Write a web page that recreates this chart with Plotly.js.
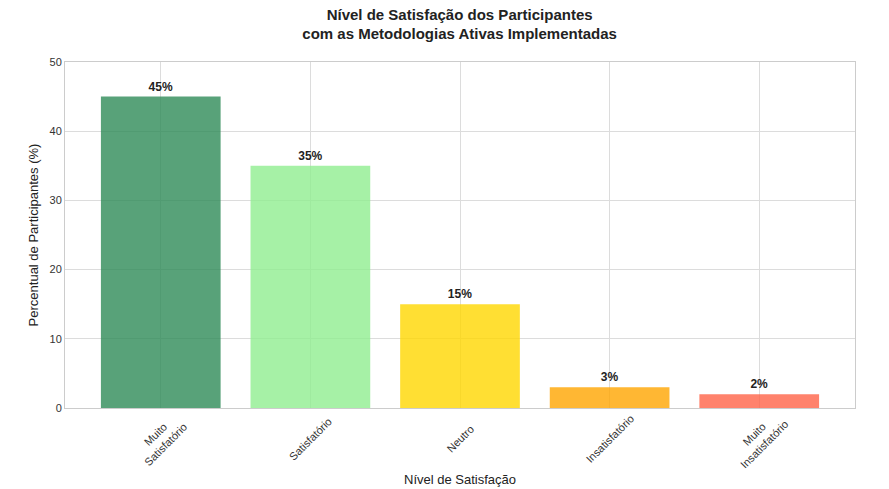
<!DOCTYPE html>
<html>
<head>
<meta charset="utf-8">
<script src="https://cdn.plot.ly/plotly-3.0.1.min.js"></script>
<style>
  html, body { margin: 0; padding: 0; background: #fff; }
  #chart { width: 889px; height: 489px; }
</style>
</head>
<body>
<div id="chart"></div>
<script>
// satisfaction levels and share of participants (%)
const categories = ['Muito<br>Satisfatório', 'Satisfatório', 'Neutro', 'Insatisfatório', 'Muito<br>Insatisfatório'];
const percentages = [45, 35, 15, 3, 2];
const barColors = ['#2E8B57', '#90EE90', '#FFD700', '#FFA500', '#FF6347'];
const yTicks = [0, 10, 20, 30, 40, 50];

const xIdx = categories.map((c, i) => i);

const data = [{
    x: xIdx,
    y: percentages,
    type: 'bar',
    width: 0.8,
    marker: { color: barColors, opacity: 0.8 },
    text: percentages.map(v => v + '%'),
    textposition: 'outside',
    cliponaxis: false,
    textfont: { family: 'Liberation Sans, Arial, sans-serif', size: 12, color: '#222', weight: 'bold' },
    texttemplate: '<b>%{text}</b>',
    hoverinfo: 'skip'
}];

// rotated category labels, centred under each tick like the original
const labelNotes = categories.map((c, i) => ({
    x: i,
    y: -0.09,
    xref: 'x',
    yref: 'paper',
    text: c,
    showarrow: false,
    textangle: -45,
    font: { size: 11, color: '#333' },
    xanchor: 'center',
    yanchor: 'middle'
}));

// x axis title sits low near the page edge, as in the original
labelNotes.push({
    x: 0.5,
    y: -0.206,
    xref: 'paper',
    yref: 'paper',
    text: 'Nível de Satisfação',
    showarrow: false,
    font: { size: 13, color: '#222' },
    xanchor: 'center',
    yanchor: 'middle'
});

const layout = {
    width: 889,
    height: 489,
    margin: { t: 62, b: 81, l: 65, r: 34 },
    paper_bgcolor: '#fff',
    plot_bgcolor: '#fff',
    font: { family: 'Liberation Sans, Arial, sans-serif', color: '#333' },
    title: {
        text: '<b>Nível de Satisfação dos Participantes<br>com as Metodologias Ativas Implementadas</b>',
        font: { size: 15, color: '#222' },
        x: 0.517,
        xanchor: 'center',
        y: 0.96,
        yanchor: 'middle'
    },
    showlegend: false,
    bargap: 0.2,
    xaxis: {
        range: [-0.64, 4.64],
        tickvals: xIdx,
        showticklabels: false,
        showgrid: true,
        gridcolor: '#dcdcdc',
        showline: true,
        linecolor: '#cccccc',
        mirror: true,
        zeroline: false,
        ticks: ''
    },
    yaxis: {
        range: [0, 50],
        tickvals: yTicks,
        showgrid: true,
        gridcolor: '#dcdcdc',
        showline: true,
        linecolor: '#cccccc',
        mirror: true,
        zeroline: false,
        ticks: '',
        ticklen: 0,
        tickfont: { size: 11, color: '#333' },
        title: { text: 'Percentual de Participantes (%)', font: { size: 13, color: '#222' }, standoff: 7 }
    },
    annotations: labelNotes
};

Plotly.newPlot('chart', data, layout, { displayModeBar: false, staticPlot: true });
</script>
</body>
</html>
